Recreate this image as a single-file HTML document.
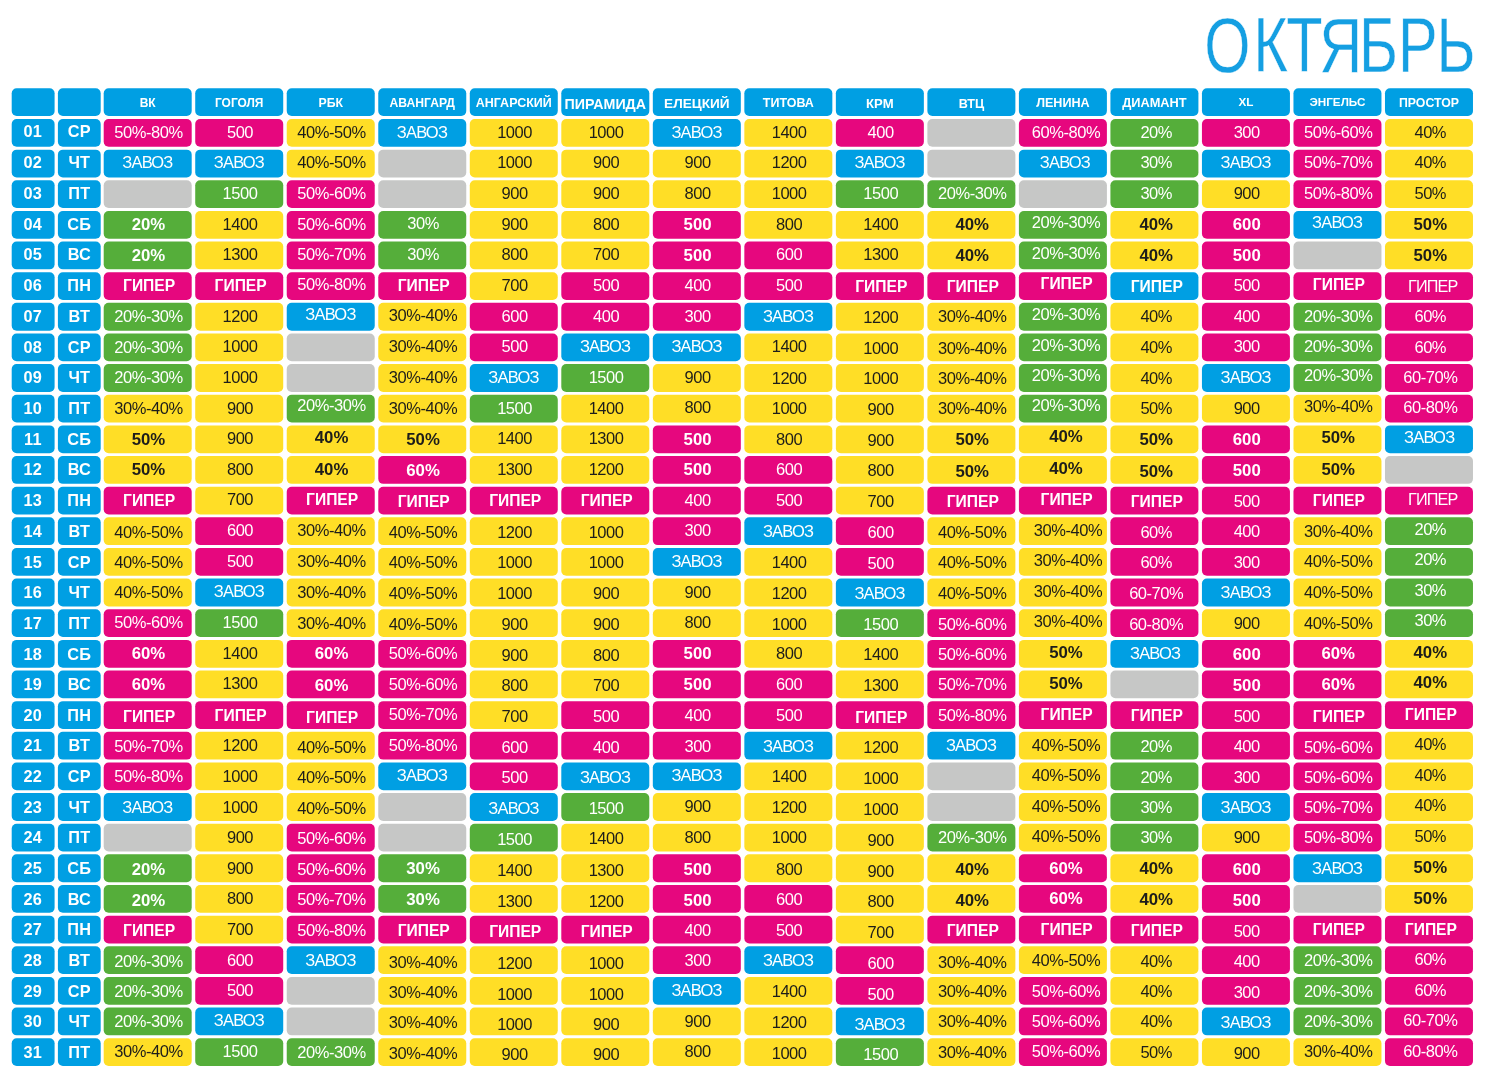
<!DOCTYPE html>
<html lang="ru"><head><meta charset="utf-8"><title>ОКТЯБРЬ</title>
<style>
html,body{margin:0;padding:0;background:#fff;}
body{width:1487px;height:1080px;overflow:hidden;}
svg{display:block;position:absolute;left:0;top:0}
text{font-family:"Liberation Sans",sans-serif;text-anchor:middle;fill:#fff;font-size:16.5px;letter-spacing:-0.45px}
.B{fill:#009fe3}.P{fill:#e6077e}.Y{fill:#ffde26}.G{fill:#55ae3a}.X{fill:#c6c7c6}
.k{fill:#1d1d1b}
.z{letter-spacing:-0.8px}
.b{font-weight:bold;font-size:16.8px;letter-spacing:0}
.g{font-weight:bold;font-size:15.6px;letter-spacing:0}
.h{font-weight:bold;letter-spacing:0}
.d{font-weight:bold;font-size:16.3px;letter-spacing:0.2px}
#t{font-size:78px;fill:#159fe2;stroke:#fff;stroke-width:0.45px;paint-order:fill stroke;text-anchor:start;letter-spacing:0}
</style></head><body>
<svg width="1487" height="1080" viewBox="0 0 1487 1080">
<text id="t" transform="scale(0.762,1)" x="1580.37 1644.53 1687.89 1731.33 1783.46 1834.62 1885.03" y="72.1">ОКТЯБРЬ</text>

<rect class="B" x="11.70" y="88.20" width="42.90" height="27.80" rx="5"/>
<rect class="B" x="57.90" y="88.20" width="42.80" height="27.80" rx="5"/>
<rect class="B" x="103.70" y="88.20" width="88.00" height="27.80" rx="5"/>
<text class="h" x="147.70" y="107.30" style="font-size:12.0px">ВК</text>
<rect class="B" x="195.22" y="88.20" width="88.00" height="27.80" rx="5"/>
<text class="h" x="239.22" y="107.28" style="font-size:11.95px">ГОГОЛЯ</text>
<rect class="B" x="286.74" y="88.20" width="88.00" height="27.80" rx="5"/>
<text class="h" x="330.74" y="107.39" style="font-size:12.27px">РБК</text>
<rect class="B" x="378.26" y="88.20" width="88.00" height="27.80" rx="5"/>
<text class="h" x="422.26" y="107.36" style="font-size:12.17px">АВАНГАРД</text>
<rect class="B" x="469.78" y="88.20" width="88.00" height="27.80" rx="5"/>
<text class="h" x="513.78" y="107.47" style="font-size:12.49px">АНГАРСКИЙ</text>
<rect class="B" x="561.30" y="88.20" width="88.00" height="27.80" rx="5"/>
<text class="h" x="605.30" y="108.80" style="font-size:14.24px">ПИРАМИДА</text>
<rect class="B" x="652.82" y="88.20" width="88.00" height="27.80" rx="5"/>
<text class="h" x="696.82" y="107.87" style="font-size:13.6px">ЕЛЕЦКИЙ</text>
<rect class="B" x="744.34" y="88.20" width="88.00" height="27.80" rx="5"/>
<text class="h" x="788.34" y="107.46" style="font-size:12.47px">ТИТОВА</text>
<rect class="B" x="835.86" y="88.20" width="88.00" height="27.80" rx="5"/>
<text class="h" x="879.86" y="107.69" style="font-size:13.11px">КРМ</text>
<rect class="B" x="927.38" y="88.20" width="88.00" height="27.80" rx="5"/>
<text class="h" x="971.38" y="107.51" style="font-size:12.59px">ВТЦ</text>
<rect class="B" x="1018.90" y="88.20" width="88.00" height="27.80" rx="5"/>
<text class="h" x="1062.90" y="106.70" style="font-size:12.58px">ЛЕНИНА</text>
<rect class="B" x="1110.42" y="88.20" width="88.00" height="27.80" rx="5"/>
<text class="h" x="1154.42" y="106.78" style="font-size:12.79px">ДИАМАНТ</text>
<rect class="B" x="1201.94" y="88.20" width="88.00" height="27.80" rx="5"/>
<text class="h" x="1245.94" y="106.40" style="font-size:11.73px">XL</text>
<rect class="B" x="1293.46" y="88.20" width="88.00" height="27.80" rx="5"/>
<text class="h" x="1337.46" y="106.39" style="font-size:11.7px">ЭНГЕЛЬС</text>
<rect class="B" x="1384.98" y="88.20" width="88.00" height="27.80" rx="5"/>
<text class="h" x="1428.98" y="106.60" style="font-size:12.3px">ПРОСТОР</text>
<rect class="B" x="11.70" y="119.00" width="42.90" height="27.80" rx="5"/>
<text class="d" x="32.85" y="137.44">01</text>
<rect class="B" x="57.90" y="119.00" width="42.80" height="27.80" rx="5"/>
<text class="d" x="79.30" y="137.44">СР</text>
<rect class="P" x="103.70" y="119.00" width="88.00" height="27.80" rx="5"/>
<text x="148.50" y="137.81">50%-80%</text>
<rect class="P" x="195.22" y="119.00" width="88.00" height="27.80" rx="5"/>
<text x="240.02" y="137.81">500</text>
<rect class="Y" x="286.74" y="119.00" width="88.00" height="27.80" rx="5"/>
<text class="k" x="331.54" y="137.81">40%-50%</text>
<rect class="B" x="378.26" y="119.00" width="88.00" height="27.80" rx="5"/>
<text class="z" x="421.96" y="137.81">ЗАВОЗ</text>
<rect class="Y" x="469.78" y="119.00" width="88.00" height="27.80" rx="5"/>
<text class="k" x="514.58" y="137.81">1000</text>
<rect class="Y" x="561.30" y="119.00" width="88.00" height="27.80" rx="5"/>
<text class="k" x="606.10" y="137.81">1000</text>
<rect class="B" x="652.82" y="119.00" width="88.00" height="27.80" rx="5"/>
<text class="z" x="696.52" y="137.81">ЗАВОЗ</text>
<rect class="Y" x="744.34" y="119.00" width="88.00" height="27.80" rx="5"/>
<text class="k" x="789.14" y="137.81">1400</text>
<rect class="P" x="835.86" y="119.00" width="88.00" height="27.80" rx="5"/>
<text x="880.66" y="137.81">400</text>
<rect class="X" x="927.38" y="119.00" width="88.00" height="27.80" rx="5"/>
<rect class="P" x="1018.90" y="119.00" width="88.00" height="27.80" rx="5"/>
<text x="1066.00" y="137.81">60%-80%</text>
<rect class="G" x="1110.42" y="119.00" width="88.00" height="27.80" rx="5"/>
<text x="1156.22" y="137.81">20%</text>
<rect class="P" x="1201.94" y="119.00" width="88.00" height="27.80" rx="5"/>
<text x="1246.74" y="137.81">300</text>
<rect class="P" x="1293.46" y="119.00" width="88.00" height="27.80" rx="5"/>
<text x="1338.26" y="137.81">50%-60%</text>
<rect class="Y" x="1384.98" y="119.00" width="88.00" height="27.80" rx="5"/>
<text class="k" x="1430.28" y="137.81">40%</text>
<rect class="B" x="11.70" y="149.64" width="42.90" height="27.80" rx="5"/>
<text class="d" x="32.85" y="168.16">02</text>
<rect class="B" x="57.90" y="149.64" width="42.80" height="27.80" rx="5"/>
<text class="d" x="79.30" y="168.16">ЧТ</text>
<rect class="B" x="103.70" y="149.64" width="88.00" height="27.80" rx="5"/>
<text class="z" x="147.40" y="168.45">ЗАВОЗ</text>
<rect class="B" x="195.22" y="149.64" width="88.00" height="27.80" rx="5"/>
<text class="z" x="238.92" y="168.45">ЗАВОЗ</text>
<rect class="Y" x="286.74" y="149.64" width="88.00" height="27.80" rx="5"/>
<text class="k" x="331.54" y="168.45">40%-50%</text>
<rect class="X" x="378.26" y="149.64" width="88.00" height="27.80" rx="5"/>
<rect class="Y" x="469.78" y="149.64" width="88.00" height="27.80" rx="5"/>
<text class="k" x="514.58" y="168.45">1000</text>
<rect class="Y" x="561.30" y="149.64" width="88.00" height="27.80" rx="5"/>
<text class="k" x="606.10" y="168.45">900</text>
<rect class="Y" x="652.82" y="149.64" width="88.00" height="27.80" rx="5"/>
<text class="k" x="697.62" y="168.45">900</text>
<rect class="Y" x="744.34" y="149.64" width="88.00" height="27.80" rx="5"/>
<text class="k" x="789.14" y="168.45">1200</text>
<rect class="B" x="835.86" y="149.64" width="88.00" height="27.80" rx="5"/>
<text class="z" x="879.56" y="168.45">ЗАВОЗ</text>
<rect class="X" x="927.38" y="149.64" width="88.00" height="27.80" rx="5"/>
<rect class="B" x="1018.90" y="149.64" width="88.00" height="27.80" rx="5"/>
<text class="z" x="1064.90" y="168.45">ЗАВОЗ</text>
<rect class="G" x="1110.42" y="149.64" width="88.00" height="27.80" rx="5"/>
<text x="1156.22" y="168.45">30%</text>
<rect class="B" x="1201.94" y="149.64" width="88.00" height="27.80" rx="5"/>
<text class="z" x="1245.64" y="168.45">ЗАВОЗ</text>
<rect class="P" x="1293.46" y="149.64" width="88.00" height="27.80" rx="5"/>
<text x="1338.26" y="168.45">50%-70%</text>
<rect class="Y" x="1384.98" y="149.64" width="88.00" height="27.80" rx="5"/>
<text class="k" x="1430.28" y="168.45">40%</text>
<rect class="B" x="11.70" y="180.28" width="42.90" height="27.80" rx="5"/>
<text class="d" x="32.85" y="198.89">03</text>
<rect class="B" x="57.90" y="180.28" width="42.80" height="27.80" rx="5"/>
<text class="d" x="79.30" y="198.89">ПТ</text>
<rect class="X" x="103.70" y="180.28" width="88.00" height="27.80" rx="5"/>
<rect class="G" x="195.22" y="180.28" width="88.00" height="27.80" rx="5"/>
<text x="240.02" y="199.09">1500</text>
<rect class="P" x="286.74" y="180.28" width="88.00" height="27.80" rx="5"/>
<text x="331.54" y="199.09">50%-60%</text>
<rect class="X" x="378.26" y="180.28" width="88.00" height="27.80" rx="5"/>
<rect class="Y" x="469.78" y="180.28" width="88.00" height="27.80" rx="5"/>
<text class="k" x="514.58" y="199.09">900</text>
<rect class="Y" x="561.30" y="180.28" width="88.00" height="27.80" rx="5"/>
<text class="k" x="606.10" y="199.09">900</text>
<rect class="Y" x="652.82" y="180.28" width="88.00" height="27.80" rx="5"/>
<text class="k" x="697.62" y="199.09">800</text>
<rect class="Y" x="744.34" y="180.28" width="88.00" height="27.80" rx="5"/>
<text class="k" x="789.14" y="199.09">1000</text>
<rect class="G" x="835.86" y="180.28" width="88.00" height="27.80" rx="5"/>
<text x="880.66" y="199.09">1500</text>
<rect class="G" x="927.38" y="180.28" width="88.00" height="27.80" rx="5"/>
<text x="972.18" y="199.09">20%-30%</text>
<rect class="X" x="1018.90" y="180.28" width="88.00" height="27.80" rx="5"/>
<rect class="G" x="1110.42" y="180.28" width="88.00" height="27.80" rx="5"/>
<text x="1156.22" y="199.09">30%</text>
<rect class="Y" x="1201.94" y="180.28" width="88.00" height="27.80" rx="5"/>
<text class="k" x="1246.74" y="199.09">900</text>
<rect class="P" x="1293.46" y="180.28" width="88.00" height="27.80" rx="5"/>
<text x="1338.26" y="199.09">50%-80%</text>
<rect class="Y" x="1384.98" y="180.28" width="88.00" height="27.80" rx="5"/>
<text class="k" x="1430.28" y="199.09">50%</text>
<rect class="B" x="11.70" y="210.92" width="42.90" height="27.80" rx="5"/>
<text class="d" x="32.85" y="229.61">04</text>
<rect class="B" x="57.90" y="210.92" width="42.80" height="27.80" rx="5"/>
<text class="d" x="79.30" y="229.61">СБ</text>
<rect class="G" x="103.70" y="210.92" width="88.00" height="27.80" rx="5"/>
<text class="b" x="148.50" y="230.23">20%</text>
<rect class="Y" x="195.22" y="210.92" width="88.00" height="27.80" rx="5"/>
<text class="k" x="240.02" y="229.73">1400</text>
<rect class="P" x="286.74" y="210.92" width="88.00" height="27.80" rx="5"/>
<text x="331.54" y="229.73">50%-60%</text>
<rect class="G" x="378.26" y="210.92" width="88.00" height="27.80" rx="5"/>
<text x="423.06" y="228.73">30%</text>
<rect class="Y" x="469.78" y="210.92" width="88.00" height="27.80" rx="5"/>
<text class="k" x="514.58" y="229.73">900</text>
<rect class="Y" x="561.30" y="210.92" width="88.00" height="27.80" rx="5"/>
<text class="k" x="606.10" y="229.73">800</text>
<rect class="P" x="652.82" y="210.92" width="88.00" height="27.80" rx="5"/>
<text class="b" x="697.62" y="230.23">500</text>
<rect class="Y" x="744.34" y="210.92" width="88.00" height="27.80" rx="5"/>
<text class="k" x="789.14" y="229.73">800</text>
<rect class="Y" x="835.86" y="210.92" width="88.00" height="27.80" rx="5"/>
<text class="k" x="880.66" y="229.73">1400</text>
<rect class="Y" x="927.38" y="210.92" width="88.00" height="27.80" rx="5"/>
<text class="b k" x="972.18" y="230.23">40%</text>
<rect class="G" x="1018.90" y="210.92" width="88.00" height="27.80" rx="5"/>
<text x="1066.00" y="227.73">20%-30%</text>
<rect class="Y" x="1110.42" y="210.92" width="88.00" height="27.80" rx="5"/>
<text class="b k" x="1156.22" y="230.23">40%</text>
<rect class="P" x="1201.94" y="210.92" width="88.00" height="27.80" rx="5"/>
<text class="b" x="1246.74" y="230.23">600</text>
<rect class="B" x="1293.46" y="210.92" width="88.00" height="27.80" rx="5"/>
<text class="z" x="1337.16" y="227.73">ЗАВОЗ</text>
<rect class="Y" x="1384.98" y="210.92" width="88.00" height="27.80" rx="5"/>
<text class="b k" x="1430.28" y="230.23">50%</text>
<rect class="B" x="11.70" y="241.56" width="42.90" height="27.80" rx="5"/>
<text class="d" x="32.85" y="260.34">05</text>
<rect class="B" x="57.90" y="241.56" width="42.80" height="27.80" rx="5"/>
<text class="d" x="79.30" y="260.34">ВС</text>
<rect class="G" x="103.70" y="241.56" width="88.00" height="27.80" rx="5"/>
<text class="b" x="148.50" y="260.87">20%</text>
<rect class="Y" x="195.22" y="241.56" width="88.00" height="27.80" rx="5"/>
<text class="k" x="240.02" y="260.37">1300</text>
<rect class="P" x="286.74" y="241.56" width="88.00" height="27.80" rx="5"/>
<text x="331.54" y="260.37">50%-70%</text>
<rect class="G" x="378.26" y="241.56" width="88.00" height="27.80" rx="5"/>
<text x="423.06" y="259.67">30%</text>
<rect class="Y" x="469.78" y="241.56" width="88.00" height="27.80" rx="5"/>
<text class="k" x="514.58" y="260.37">800</text>
<rect class="Y" x="561.30" y="241.56" width="88.00" height="27.80" rx="5"/>
<text class="k" x="606.10" y="260.37">700</text>
<rect class="P" x="652.82" y="241.56" width="88.00" height="27.80" rx="5"/>
<text class="b" x="697.62" y="260.87">500</text>
<rect class="P" x="744.34" y="241.56" width="88.00" height="27.80" rx="5"/>
<text x="789.14" y="260.37">600</text>
<rect class="Y" x="835.86" y="241.56" width="88.00" height="27.80" rx="5"/>
<text class="k" x="880.66" y="260.37">1300</text>
<rect class="Y" x="927.38" y="241.56" width="88.00" height="27.80" rx="5"/>
<text class="b k" x="972.18" y="260.87">40%</text>
<rect class="G" x="1018.90" y="241.56" width="88.00" height="27.80" rx="5"/>
<text x="1066.00" y="258.87">20%-30%</text>
<rect class="Y" x="1110.42" y="241.56" width="88.00" height="27.80" rx="5"/>
<text class="b k" x="1156.22" y="260.87">40%</text>
<rect class="P" x="1201.94" y="241.56" width="88.00" height="27.80" rx="5"/>
<text class="b" x="1246.74" y="260.87">500</text>
<rect class="X" x="1293.46" y="241.56" width="88.00" height="27.80" rx="5"/>
<rect class="Y" x="1384.98" y="241.56" width="88.00" height="27.80" rx="5"/>
<text class="b k" x="1430.28" y="260.87">50%</text>
<rect class="B" x="11.70" y="272.20" width="42.90" height="27.80" rx="5"/>
<text class="d" x="32.85" y="291.06">06</text>
<rect class="B" x="57.90" y="272.20" width="42.80" height="27.80" rx="5"/>
<text class="d" x="79.30" y="291.06">ПН</text>
<rect class="P" x="103.70" y="272.20" width="88.00" height="27.80" rx="5"/>
<text class="g" x="149.10" y="291.08">ГИПЕР</text>
<rect class="P" x="195.22" y="272.20" width="88.00" height="27.80" rx="5"/>
<text class="g" x="240.62" y="291.08">ГИПЕР</text>
<rect class="P" x="286.74" y="272.20" width="88.00" height="27.80" rx="5"/>
<text x="331.54" y="289.71">50%-80%</text>
<rect class="P" x="378.26" y="272.20" width="88.00" height="27.80" rx="5"/>
<text class="g" x="423.66" y="291.08">ГИПЕР</text>
<rect class="Y" x="469.78" y="272.20" width="88.00" height="27.80" rx="5"/>
<text class="k" x="514.58" y="291.01">700</text>
<rect class="P" x="561.30" y="272.20" width="88.00" height="27.80" rx="5"/>
<text x="606.10" y="291.01">500</text>
<rect class="P" x="652.82" y="272.20" width="88.00" height="27.80" rx="5"/>
<text x="697.62" y="291.01">400</text>
<rect class="P" x="744.34" y="272.20" width="88.00" height="27.80" rx="5"/>
<text x="789.14" y="291.01">500</text>
<rect class="P" x="835.86" y="272.20" width="88.00" height="27.80" rx="5"/>
<text class="g" x="881.26" y="291.78">ГИПЕР</text>
<rect class="P" x="927.38" y="272.20" width="88.00" height="27.80" rx="5"/>
<text class="g" x="972.78" y="291.78">ГИПЕР</text>
<rect class="P" x="1018.90" y="272.20" width="88.00" height="27.80" rx="5"/>
<text class="g" x="1066.60" y="289.38">ГИПЕР</text>
<rect class="B" x="1110.42" y="272.20" width="88.00" height="27.80" rx="5"/>
<text class="g" x="1156.82" y="292.08">ГИПЕР</text>
<rect class="P" x="1201.94" y="272.20" width="88.00" height="27.80" rx="5"/>
<text x="1246.74" y="291.01">500</text>
<rect class="P" x="1293.46" y="272.20" width="88.00" height="27.80" rx="5"/>
<text class="g" x="1338.86" y="289.78">ГИПЕР</text>
<rect class="P" x="1384.98" y="272.20" width="88.00" height="27.80" rx="5"/>
<text x="1432.78" y="291.90" style="font-size:16.2px;letter-spacing:-0.85px">ГИПЕР</text>
<rect class="B" x="11.70" y="302.84" width="42.90" height="27.80" rx="5"/>
<text class="d" x="32.85" y="321.79">07</text>
<rect class="B" x="57.90" y="302.84" width="42.80" height="27.80" rx="5"/>
<text class="d" x="79.30" y="321.79">ВТ</text>
<rect class="G" x="103.70" y="302.84" width="88.00" height="27.80" rx="5"/>
<text x="148.50" y="322.35">20%-30%</text>
<rect class="Y" x="195.22" y="302.84" width="88.00" height="27.80" rx="5"/>
<text class="k" x="240.02" y="321.65">1200</text>
<rect class="B" x="286.74" y="302.84" width="88.00" height="27.80" rx="5"/>
<text class="z" x="330.44" y="320.35">ЗАВОЗ</text>
<rect class="Y" x="378.26" y="302.84" width="88.00" height="27.80" rx="5"/>
<text class="k" x="423.06" y="320.95">30%-40%</text>
<rect class="P" x="469.78" y="302.84" width="88.00" height="27.80" rx="5"/>
<text x="514.58" y="321.65">600</text>
<rect class="P" x="561.30" y="302.84" width="88.00" height="27.80" rx="5"/>
<text x="606.10" y="321.65">400</text>
<rect class="P" x="652.82" y="302.84" width="88.00" height="27.80" rx="5"/>
<text x="697.62" y="321.65">300</text>
<rect class="B" x="744.34" y="302.84" width="88.00" height="27.80" rx="5"/>
<text class="z" x="788.04" y="321.65">ЗАВОЗ</text>
<rect class="Y" x="835.86" y="302.84" width="88.00" height="27.80" rx="5"/>
<text class="k" x="880.66" y="322.65">1200</text>
<rect class="Y" x="927.38" y="302.84" width="88.00" height="27.80" rx="5"/>
<text class="k" x="972.18" y="322.35">30%-40%</text>
<rect class="G" x="1018.90" y="302.84" width="88.00" height="27.80" rx="5"/>
<text x="1066.00" y="320.35">20%-30%</text>
<rect class="Y" x="1110.42" y="302.84" width="88.00" height="27.80" rx="5"/>
<text class="k" x="1156.22" y="321.65">40%</text>
<rect class="P" x="1201.94" y="302.84" width="88.00" height="27.80" rx="5"/>
<text x="1246.74" y="321.65">400</text>
<rect class="G" x="1293.46" y="302.84" width="88.00" height="27.80" rx="5"/>
<text x="1338.26" y="321.65">20%-30%</text>
<rect class="P" x="1384.98" y="302.84" width="88.00" height="27.80" rx="5"/>
<text x="1430.28" y="321.65">60%</text>
<rect class="B" x="11.70" y="333.48" width="42.90" height="27.80" rx="5"/>
<text class="d" x="32.85" y="352.52">08</text>
<rect class="B" x="57.90" y="333.48" width="42.80" height="27.80" rx="5"/>
<text class="d" x="79.30" y="352.52">СР</text>
<rect class="G" x="103.70" y="333.48" width="88.00" height="27.80" rx="5"/>
<text x="148.50" y="352.99">20%-30%</text>
<rect class="Y" x="195.22" y="333.48" width="88.00" height="27.80" rx="5"/>
<text class="k" x="240.02" y="352.29">1000</text>
<rect class="X" x="286.74" y="333.48" width="88.00" height="27.80" rx="5"/>
<rect class="Y" x="378.26" y="333.48" width="88.00" height="27.80" rx="5"/>
<text class="k" x="423.06" y="352.29">30%-40%</text>
<rect class="P" x="469.78" y="333.48" width="88.00" height="27.80" rx="5"/>
<text x="514.58" y="352.29">500</text>
<rect class="B" x="561.30" y="333.48" width="88.00" height="27.80" rx="5"/>
<text class="z" x="605.00" y="352.29">ЗАВОЗ</text>
<rect class="B" x="652.82" y="333.48" width="88.00" height="27.80" rx="5"/>
<text class="z" x="696.52" y="352.29">ЗАВОЗ</text>
<rect class="Y" x="744.34" y="333.48" width="88.00" height="27.80" rx="5"/>
<text class="k" x="789.14" y="352.29">1400</text>
<rect class="Y" x="835.86" y="333.48" width="88.00" height="27.80" rx="5"/>
<text class="k" x="880.66" y="353.59">1000</text>
<rect class="Y" x="927.38" y="333.48" width="88.00" height="27.80" rx="5"/>
<text class="k" x="972.18" y="353.79">30%-40%</text>
<rect class="G" x="1018.90" y="333.48" width="88.00" height="27.80" rx="5"/>
<text x="1066.00" y="351.29">20%-30%</text>
<rect class="Y" x="1110.42" y="333.48" width="88.00" height="27.80" rx="5"/>
<text class="k" x="1156.22" y="352.99">40%</text>
<rect class="P" x="1201.94" y="333.48" width="88.00" height="27.80" rx="5"/>
<text x="1246.74" y="352.29">300</text>
<rect class="G" x="1293.46" y="333.48" width="88.00" height="27.80" rx="5"/>
<text x="1338.26" y="352.29">20%-30%</text>
<rect class="P" x="1384.98" y="333.48" width="88.00" height="27.80" rx="5"/>
<text x="1430.28" y="352.79">60%</text>
<rect class="B" x="11.70" y="364.12" width="42.90" height="27.80" rx="5"/>
<text class="d" x="32.85" y="383.24">09</text>
<rect class="B" x="57.90" y="364.12" width="42.80" height="27.80" rx="5"/>
<text class="d" x="79.30" y="383.24">ЧТ</text>
<rect class="G" x="103.70" y="364.12" width="88.00" height="27.80" rx="5"/>
<text x="148.50" y="382.93">20%-30%</text>
<rect class="Y" x="195.22" y="364.12" width="88.00" height="27.80" rx="5"/>
<text class="k" x="240.02" y="382.93">1000</text>
<rect class="X" x="286.74" y="364.12" width="88.00" height="27.80" rx="5"/>
<rect class="Y" x="378.26" y="364.12" width="88.00" height="27.80" rx="5"/>
<text class="k" x="423.06" y="382.93">30%-40%</text>
<rect class="B" x="469.78" y="364.12" width="88.00" height="27.80" rx="5"/>
<text class="z" x="513.48" y="382.93">ЗАВОЗ</text>
<rect class="G" x="561.30" y="364.12" width="88.00" height="27.80" rx="5"/>
<text x="606.10" y="382.93">1500</text>
<rect class="Y" x="652.82" y="364.12" width="88.00" height="27.80" rx="5"/>
<text class="k" x="697.62" y="382.93">900</text>
<rect class="Y" x="744.34" y="364.12" width="88.00" height="27.80" rx="5"/>
<text class="k" x="789.14" y="383.93">1200</text>
<rect class="Y" x="835.86" y="364.12" width="88.00" height="27.80" rx="5"/>
<text class="k" x="880.66" y="384.43">1000</text>
<rect class="Y" x="927.38" y="364.12" width="88.00" height="27.80" rx="5"/>
<text class="k" x="972.18" y="383.93">30%-40%</text>
<rect class="G" x="1018.90" y="364.12" width="88.00" height="27.80" rx="5"/>
<text x="1066.00" y="380.63">20%-30%</text>
<rect class="Y" x="1110.42" y="364.12" width="88.00" height="27.80" rx="5"/>
<text class="k" x="1156.22" y="383.93">40%</text>
<rect class="B" x="1201.94" y="364.12" width="88.00" height="27.80" rx="5"/>
<text class="z" x="1245.64" y="382.93">ЗАВОЗ</text>
<rect class="G" x="1293.46" y="364.12" width="88.00" height="27.80" rx="5"/>
<text x="1338.26" y="381.43">20%-30%</text>
<rect class="P" x="1384.98" y="364.12" width="88.00" height="27.80" rx="5"/>
<text x="1430.28" y="382.93">60-70%</text>
<rect class="B" x="11.70" y="394.76" width="42.90" height="27.80" rx="5"/>
<text class="d" x="32.85" y="413.97">10</text>
<rect class="B" x="57.90" y="394.76" width="42.80" height="27.80" rx="5"/>
<text class="d" x="79.30" y="413.97">ПТ</text>
<rect class="Y" x="103.70" y="394.76" width="88.00" height="27.80" rx="5"/>
<text class="k" x="148.50" y="413.57">30%-40%</text>
<rect class="Y" x="195.22" y="394.76" width="88.00" height="27.80" rx="5"/>
<text class="k" x="240.02" y="413.57">900</text>
<rect class="G" x="286.74" y="394.76" width="88.00" height="27.80" rx="5"/>
<text x="331.54" y="411.27">20%-30%</text>
<rect class="Y" x="378.26" y="394.76" width="88.00" height="27.80" rx="5"/>
<text class="k" x="423.06" y="413.57">30%-40%</text>
<rect class="G" x="469.78" y="394.76" width="88.00" height="27.80" rx="5"/>
<text x="514.58" y="413.57">1500</text>
<rect class="Y" x="561.30" y="394.76" width="88.00" height="27.80" rx="5"/>
<text class="k" x="606.10" y="413.57">1400</text>
<rect class="Y" x="652.82" y="394.76" width="88.00" height="27.80" rx="5"/>
<text class="k" x="697.62" y="412.57">800</text>
<rect class="Y" x="744.34" y="394.76" width="88.00" height="27.80" rx="5"/>
<text class="k" x="789.14" y="413.97">1000</text>
<rect class="Y" x="835.86" y="394.76" width="88.00" height="27.80" rx="5"/>
<text class="k" x="880.66" y="414.57">900</text>
<rect class="Y" x="927.38" y="394.76" width="88.00" height="27.80" rx="5"/>
<text class="k" x="972.18" y="414.27">30%-40%</text>
<rect class="G" x="1018.90" y="394.76" width="88.00" height="27.80" rx="5"/>
<text x="1066.00" y="411.27">20%-30%</text>
<rect class="Y" x="1110.42" y="394.76" width="88.00" height="27.80" rx="5"/>
<text class="k" x="1156.22" y="413.57">50%</text>
<rect class="Y" x="1201.94" y="394.76" width="88.00" height="27.80" rx="5"/>
<text class="k" x="1246.74" y="413.57">900</text>
<rect class="Y" x="1293.46" y="394.76" width="88.00" height="27.80" rx="5"/>
<text class="k" x="1338.26" y="412.07">30%-40%</text>
<rect class="P" x="1384.98" y="394.76" width="88.00" height="27.80" rx="5"/>
<text x="1430.28" y="413.07">60-80%</text>
<rect class="B" x="11.70" y="425.40" width="42.90" height="27.80" rx="5"/>
<text class="d" x="32.85" y="444.69">11</text>
<rect class="B" x="57.90" y="425.40" width="42.80" height="27.80" rx="5"/>
<text class="d" x="79.30" y="444.69">СБ</text>
<rect class="Y" x="103.70" y="425.40" width="88.00" height="27.80" rx="5"/>
<text class="b k" x="148.50" y="444.71">50%</text>
<rect class="Y" x="195.22" y="425.40" width="88.00" height="27.80" rx="5"/>
<text class="k" x="240.02" y="444.21">900</text>
<rect class="Y" x="286.74" y="425.40" width="88.00" height="27.80" rx="5"/>
<text class="b k" x="331.54" y="443.01">40%</text>
<rect class="Y" x="378.26" y="425.40" width="88.00" height="27.80" rx="5"/>
<text class="b k" x="423.06" y="444.71">50%</text>
<rect class="Y" x="469.78" y="425.40" width="88.00" height="27.80" rx="5"/>
<text class="k" x="514.58" y="444.21">1400</text>
<rect class="Y" x="561.30" y="425.40" width="88.00" height="27.80" rx="5"/>
<text class="k" x="606.10" y="444.21">1300</text>
<rect class="P" x="652.82" y="425.40" width="88.00" height="27.80" rx="5"/>
<text class="b" x="697.62" y="444.71">500</text>
<rect class="Y" x="744.34" y="425.40" width="88.00" height="27.80" rx="5"/>
<text class="k" x="789.14" y="444.61">800</text>
<rect class="Y" x="835.86" y="425.40" width="88.00" height="27.80" rx="5"/>
<text class="k" x="880.66" y="445.71">900</text>
<rect class="Y" x="927.38" y="425.40" width="88.00" height="27.80" rx="5"/>
<text class="b k" x="972.18" y="444.71">50%</text>
<rect class="Y" x="1018.90" y="425.40" width="88.00" height="27.80" rx="5"/>
<text class="b k" x="1066.00" y="442.41">40%</text>
<rect class="Y" x="1110.42" y="425.40" width="88.00" height="27.80" rx="5"/>
<text class="b k" x="1156.22" y="444.71">50%</text>
<rect class="P" x="1201.94" y="425.40" width="88.00" height="27.80" rx="5"/>
<text class="b" x="1246.74" y="444.71">600</text>
<rect class="Y" x="1293.46" y="425.40" width="88.00" height="27.80" rx="5"/>
<text class="b k" x="1338.26" y="443.21">50%</text>
<rect class="B" x="1384.98" y="425.40" width="88.00" height="27.80" rx="5"/>
<text class="z" x="1429.18" y="443.21">ЗАВОЗ</text>
<rect class="B" x="11.70" y="456.04" width="42.90" height="27.80" rx="5"/>
<text class="d" x="32.85" y="475.42">12</text>
<rect class="B" x="57.90" y="456.04" width="42.80" height="27.80" rx="5"/>
<text class="d" x="79.30" y="475.42">ВС</text>
<rect class="Y" x="103.70" y="456.04" width="88.00" height="27.80" rx="5"/>
<text class="b k" x="148.50" y="475.35">50%</text>
<rect class="Y" x="195.22" y="456.04" width="88.00" height="27.80" rx="5"/>
<text class="k" x="240.02" y="474.85">800</text>
<rect class="Y" x="286.74" y="456.04" width="88.00" height="27.80" rx="5"/>
<text class="b k" x="331.54" y="474.65">40%</text>
<rect class="P" x="378.26" y="456.04" width="88.00" height="27.80" rx="5"/>
<text class="b" x="423.06" y="476.35">60%</text>
<rect class="Y" x="469.78" y="456.04" width="88.00" height="27.80" rx="5"/>
<text class="k" x="514.58" y="474.85">1300</text>
<rect class="Y" x="561.30" y="456.04" width="88.00" height="27.80" rx="5"/>
<text class="k" x="606.10" y="474.85">1200</text>
<rect class="P" x="652.82" y="456.04" width="88.00" height="27.80" rx="5"/>
<text class="b" x="697.62" y="475.35">500</text>
<rect class="P" x="744.34" y="456.04" width="88.00" height="27.80" rx="5"/>
<text x="789.14" y="475.25">600</text>
<rect class="Y" x="835.86" y="456.04" width="88.00" height="27.80" rx="5"/>
<text class="k" x="880.66" y="476.35">800</text>
<rect class="Y" x="927.38" y="456.04" width="88.00" height="27.80" rx="5"/>
<text class="b k" x="972.18" y="476.85">50%</text>
<rect class="Y" x="1018.90" y="456.04" width="88.00" height="27.80" rx="5"/>
<text class="b k" x="1066.00" y="474.05">40%</text>
<rect class="Y" x="1110.42" y="456.04" width="88.00" height="27.80" rx="5"/>
<text class="b k" x="1156.22" y="476.85">50%</text>
<rect class="P" x="1201.94" y="456.04" width="88.00" height="27.80" rx="5"/>
<text class="b" x="1246.74" y="476.35">500</text>
<rect class="Y" x="1293.46" y="456.04" width="88.00" height="27.80" rx="5"/>
<text class="b k" x="1338.26" y="474.65">50%</text>
<rect class="X" x="1384.98" y="456.04" width="88.00" height="27.80" rx="5"/>
<rect class="B" x="11.70" y="486.68" width="42.90" height="27.80" rx="5"/>
<text class="d" x="32.85" y="506.14">13</text>
<rect class="B" x="57.90" y="486.68" width="42.80" height="27.80" rx="5"/>
<text class="d" x="79.30" y="506.14">ПН</text>
<rect class="P" x="103.70" y="486.68" width="88.00" height="27.80" rx="5"/>
<text class="g" x="149.10" y="506.26">ГИПЕР</text>
<rect class="Y" x="195.22" y="486.68" width="88.00" height="27.80" rx="5"/>
<text class="k" x="240.02" y="505.49">700</text>
<rect class="P" x="286.74" y="486.68" width="88.00" height="27.80" rx="5"/>
<text class="g" x="332.14" y="504.86">ГИПЕР</text>
<rect class="P" x="378.26" y="486.68" width="88.00" height="27.80" rx="5"/>
<text class="g" x="423.66" y="506.56">ГИПЕР</text>
<rect class="P" x="469.78" y="486.68" width="88.00" height="27.80" rx="5"/>
<text class="g" x="515.18" y="505.56">ГИПЕР</text>
<rect class="P" x="561.30" y="486.68" width="88.00" height="27.80" rx="5"/>
<text class="g" x="606.70" y="505.56">ГИПЕР</text>
<rect class="P" x="652.82" y="486.68" width="88.00" height="27.80" rx="5"/>
<text x="697.62" y="506.49">400</text>
<rect class="P" x="744.34" y="486.68" width="88.00" height="27.80" rx="5"/>
<text x="789.14" y="505.89">500</text>
<rect class="Y" x="835.86" y="486.68" width="88.00" height="27.80" rx="5"/>
<text class="k" x="880.66" y="506.99">700</text>
<rect class="P" x="927.38" y="486.68" width="88.00" height="27.80" rx="5"/>
<text class="g" x="972.78" y="507.06">ГИПЕР</text>
<rect class="P" x="1018.90" y="486.68" width="88.00" height="27.80" rx="5"/>
<text class="g" x="1066.60" y="504.86">ГИПЕР</text>
<rect class="P" x="1110.42" y="486.68" width="88.00" height="27.80" rx="5"/>
<text class="g" x="1156.82" y="507.26">ГИПЕР</text>
<rect class="P" x="1201.94" y="486.68" width="88.00" height="27.80" rx="5"/>
<text x="1246.74" y="506.99">500</text>
<rect class="P" x="1293.46" y="486.68" width="88.00" height="27.80" rx="5"/>
<text class="g" x="1338.86" y="506.06">ГИПЕР</text>
<rect class="P" x="1384.98" y="486.68" width="88.00" height="27.80" rx="5"/>
<text x="1432.78" y="505.38" style="font-size:16.2px;letter-spacing:-0.85px">ГИПЕР</text>
<rect class="B" x="11.70" y="517.32" width="42.90" height="27.80" rx="5"/>
<text class="d" x="32.85" y="536.87">14</text>
<rect class="B" x="57.90" y="517.32" width="42.80" height="27.80" rx="5"/>
<text class="d" x="79.30" y="536.87">ВТ</text>
<rect class="Y" x="103.70" y="517.32" width="88.00" height="27.80" rx="5"/>
<text class="k" x="148.50" y="537.63">40%-50%</text>
<rect class="P" x="195.22" y="517.32" width="88.00" height="27.80" rx="5"/>
<text x="240.02" y="536.13">600</text>
<rect class="Y" x="286.74" y="517.32" width="88.00" height="27.80" rx="5"/>
<text class="k" x="331.54" y="536.13">30%-40%</text>
<rect class="Y" x="378.26" y="517.32" width="88.00" height="27.80" rx="5"/>
<text class="k" x="423.06" y="537.63">40%-50%</text>
<rect class="Y" x="469.78" y="517.32" width="88.00" height="27.80" rx="5"/>
<text class="k" x="514.58" y="537.63">1200</text>
<rect class="Y" x="561.30" y="517.32" width="88.00" height="27.80" rx="5"/>
<text class="k" x="606.10" y="537.63">1000</text>
<rect class="P" x="652.82" y="517.32" width="88.00" height="27.80" rx="5"/>
<text x="697.62" y="536.13">300</text>
<rect class="B" x="744.34" y="517.32" width="88.00" height="27.80" rx="5"/>
<text class="z" x="788.04" y="536.53">ЗАВОЗ</text>
<rect class="P" x="835.86" y="517.32" width="88.00" height="27.80" rx="5"/>
<text x="880.66" y="538.13">600</text>
<rect class="Y" x="927.38" y="517.32" width="88.00" height="27.80" rx="5"/>
<text class="k" x="972.18" y="538.13">40%-50%</text>
<rect class="Y" x="1018.90" y="517.32" width="88.00" height="27.80" rx="5"/>
<text class="k" x="1068.00" y="536.13">30%-40%</text>
<rect class="P" x="1110.42" y="517.32" width="88.00" height="27.80" rx="5"/>
<text x="1156.22" y="538.13">60%</text>
<rect class="P" x="1201.94" y="517.32" width="88.00" height="27.80" rx="5"/>
<text x="1246.74" y="537.13">400</text>
<rect class="Y" x="1293.46" y="517.32" width="88.00" height="27.80" rx="5"/>
<text class="k" x="1338.26" y="536.63">30%-40%</text>
<rect class="G" x="1384.98" y="517.32" width="88.00" height="27.80" rx="5"/>
<text x="1430.28" y="535.13">20%</text>
<rect class="B" x="11.70" y="547.96" width="42.90" height="27.80" rx="5"/>
<text class="d" x="32.85" y="567.60">15</text>
<rect class="B" x="57.90" y="547.96" width="42.80" height="27.80" rx="5"/>
<text class="d" x="79.30" y="567.60">СР</text>
<rect class="Y" x="103.70" y="547.96" width="88.00" height="27.80" rx="5"/>
<text class="k" x="148.50" y="567.77">40%-50%</text>
<rect class="P" x="195.22" y="547.96" width="88.00" height="27.80" rx="5"/>
<text x="240.02" y="566.77">500</text>
<rect class="Y" x="286.74" y="547.96" width="88.00" height="27.80" rx="5"/>
<text class="k" x="331.54" y="566.77">30%-40%</text>
<rect class="Y" x="378.26" y="547.96" width="88.00" height="27.80" rx="5"/>
<text class="k" x="423.06" y="567.77">40%-50%</text>
<rect class="Y" x="469.78" y="547.96" width="88.00" height="27.80" rx="5"/>
<text class="k" x="514.58" y="568.27">1000</text>
<rect class="Y" x="561.30" y="547.96" width="88.00" height="27.80" rx="5"/>
<text class="k" x="606.10" y="568.27">1000</text>
<rect class="B" x="652.82" y="547.96" width="88.00" height="27.80" rx="5"/>
<text class="z" x="696.52" y="566.77">ЗАВОЗ</text>
<rect class="Y" x="744.34" y="547.96" width="88.00" height="27.80" rx="5"/>
<text class="k" x="789.14" y="567.77">1400</text>
<rect class="P" x="835.86" y="547.96" width="88.00" height="27.80" rx="5"/>
<text x="880.66" y="568.77">500</text>
<rect class="Y" x="927.38" y="547.96" width="88.00" height="27.80" rx="5"/>
<text class="k" x="972.18" y="568.27">40%-50%</text>
<rect class="Y" x="1018.90" y="547.96" width="88.00" height="27.80" rx="5"/>
<text class="k" x="1068.00" y="566.07">30%-40%</text>
<rect class="P" x="1110.42" y="547.96" width="88.00" height="27.80" rx="5"/>
<text x="1156.22" y="568.47">60%</text>
<rect class="P" x="1201.94" y="547.96" width="88.00" height="27.80" rx="5"/>
<text x="1246.74" y="567.77">300</text>
<rect class="Y" x="1293.46" y="547.96" width="88.00" height="27.80" rx="5"/>
<text class="k" x="1338.26" y="566.77">40%-50%</text>
<rect class="G" x="1384.98" y="547.96" width="88.00" height="27.80" rx="5"/>
<text x="1430.28" y="565.07">20%</text>
<rect class="B" x="11.70" y="578.60" width="42.90" height="27.80" rx="5"/>
<text class="d" x="32.85" y="598.24">16</text>
<rect class="B" x="57.90" y="578.60" width="42.80" height="27.80" rx="5"/>
<text class="d" x="79.30" y="598.24">ЧТ</text>
<rect class="Y" x="103.70" y="578.60" width="88.00" height="27.80" rx="5"/>
<text class="k" x="148.50" y="598.41">40%-50%</text>
<rect class="B" x="195.22" y="578.60" width="88.00" height="27.80" rx="5"/>
<text class="z" x="238.92" y="597.41">ЗАВОЗ</text>
<rect class="Y" x="286.74" y="578.60" width="88.00" height="27.80" rx="5"/>
<text class="k" x="331.54" y="597.91">30%-40%</text>
<rect class="Y" x="378.26" y="578.60" width="88.00" height="27.80" rx="5"/>
<text class="k" x="423.06" y="599.11">40%-50%</text>
<rect class="Y" x="469.78" y="578.60" width="88.00" height="27.80" rx="5"/>
<text class="k" x="514.58" y="599.41">1000</text>
<rect class="Y" x="561.30" y="578.60" width="88.00" height="27.80" rx="5"/>
<text class="k" x="606.10" y="599.41">900</text>
<rect class="Y" x="652.82" y="578.60" width="88.00" height="27.80" rx="5"/>
<text class="k" x="697.62" y="598.11">900</text>
<rect class="Y" x="744.34" y="578.60" width="88.00" height="27.80" rx="5"/>
<text class="k" x="789.14" y="598.91">1200</text>
<rect class="B" x="835.86" y="578.60" width="88.00" height="27.80" rx="5"/>
<text class="z" x="879.56" y="599.11">ЗАВОЗ</text>
<rect class="Y" x="927.38" y="578.60" width="88.00" height="27.80" rx="5"/>
<text class="k" x="972.18" y="599.41">40%-50%</text>
<rect class="Y" x="1018.90" y="578.60" width="88.00" height="27.80" rx="5"/>
<text class="k" x="1068.00" y="596.71">30%-40%</text>
<rect class="P" x="1110.42" y="578.60" width="88.00" height="27.80" rx="5"/>
<text x="1156.22" y="599.11">60-70%</text>
<rect class="B" x="1201.94" y="578.60" width="88.00" height="27.80" rx="5"/>
<text class="z" x="1245.64" y="597.91">ЗАВОЗ</text>
<rect class="Y" x="1293.46" y="578.60" width="88.00" height="27.80" rx="5"/>
<text class="k" x="1338.26" y="598.11">40%-50%</text>
<rect class="G" x="1384.98" y="578.60" width="88.00" height="27.80" rx="5"/>
<text x="1430.28" y="596.41">30%</text>
<rect class="B" x="11.70" y="609.24" width="42.90" height="27.80" rx="5"/>
<text class="d" x="32.85" y="628.88">17</text>
<rect class="B" x="57.90" y="609.24" width="42.80" height="27.80" rx="5"/>
<text class="d" x="79.30" y="628.88">ПТ</text>
<rect class="P" x="103.70" y="609.24" width="88.00" height="27.80" rx="5"/>
<text x="148.50" y="628.05">50%-60%</text>
<rect class="G" x="195.22" y="609.24" width="88.00" height="27.80" rx="5"/>
<text x="240.02" y="628.05">1500</text>
<rect class="Y" x="286.74" y="609.24" width="88.00" height="27.80" rx="5"/>
<text class="k" x="331.54" y="628.75">30%-40%</text>
<rect class="Y" x="378.26" y="609.24" width="88.00" height="27.80" rx="5"/>
<text class="k" x="423.06" y="629.75">40%-50%</text>
<rect class="Y" x="469.78" y="609.24" width="88.00" height="27.80" rx="5"/>
<text class="k" x="514.58" y="630.05">900</text>
<rect class="Y" x="561.30" y="609.24" width="88.00" height="27.80" rx="5"/>
<text class="k" x="606.10" y="630.05">900</text>
<rect class="Y" x="652.82" y="609.24" width="88.00" height="27.80" rx="5"/>
<text class="k" x="697.62" y="628.05">800</text>
<rect class="Y" x="744.34" y="609.24" width="88.00" height="27.80" rx="5"/>
<text class="k" x="789.14" y="629.55">1000</text>
<rect class="G" x="835.86" y="609.24" width="88.00" height="27.80" rx="5"/>
<text x="880.66" y="630.05">1500</text>
<rect class="P" x="927.38" y="609.24" width="88.00" height="27.80" rx="5"/>
<text x="972.18" y="630.05">50%-60%</text>
<rect class="Y" x="1018.90" y="609.24" width="88.00" height="27.80" rx="5"/>
<text class="k" x="1068.00" y="627.05">30%-40%</text>
<rect class="P" x="1110.42" y="609.24" width="88.00" height="27.80" rx="5"/>
<text x="1156.22" y="629.75">60-80%</text>
<rect class="Y" x="1201.94" y="609.24" width="88.00" height="27.80" rx="5"/>
<text class="k" x="1246.74" y="629.35">900</text>
<rect class="Y" x="1293.46" y="609.24" width="88.00" height="27.80" rx="5"/>
<text class="k" x="1338.26" y="628.75">40%-50%</text>
<rect class="G" x="1384.98" y="609.24" width="88.00" height="27.80" rx="5"/>
<text x="1430.28" y="626.05">30%</text>
<rect class="B" x="11.70" y="639.88" width="42.90" height="27.80" rx="5"/>
<text class="d" x="32.85" y="659.52">18</text>
<rect class="B" x="57.90" y="639.88" width="42.80" height="27.80" rx="5"/>
<text class="d" x="79.30" y="659.52">СБ</text>
<rect class="P" x="103.70" y="639.88" width="88.00" height="27.80" rx="5"/>
<text class="b" x="148.50" y="659.19">60%</text>
<rect class="Y" x="195.22" y="639.88" width="88.00" height="27.80" rx="5"/>
<text class="k" x="240.02" y="658.69">1400</text>
<rect class="P" x="286.74" y="639.88" width="88.00" height="27.80" rx="5"/>
<text class="b" x="331.54" y="659.19">60%</text>
<rect class="P" x="378.26" y="639.88" width="88.00" height="27.80" rx="5"/>
<text x="423.06" y="658.69">50%-60%</text>
<rect class="Y" x="469.78" y="639.88" width="88.00" height="27.80" rx="5"/>
<text class="k" x="514.58" y="660.69">900</text>
<rect class="Y" x="561.30" y="639.88" width="88.00" height="27.80" rx="5"/>
<text class="k" x="606.10" y="660.69">800</text>
<rect class="P" x="652.82" y="639.88" width="88.00" height="27.80" rx="5"/>
<text class="b" x="697.62" y="659.19">500</text>
<rect class="Y" x="744.34" y="639.88" width="88.00" height="27.80" rx="5"/>
<text class="k" x="789.14" y="659.19">800</text>
<rect class="Y" x="835.86" y="639.88" width="88.00" height="27.80" rx="5"/>
<text class="k" x="880.66" y="660.39">1400</text>
<rect class="P" x="927.38" y="639.88" width="88.00" height="27.80" rx="5"/>
<text x="972.18" y="659.69">50%-60%</text>
<rect class="Y" x="1018.90" y="639.88" width="88.00" height="27.80" rx="5"/>
<text class="b k" x="1066.00" y="658.49">50%</text>
<rect class="B" x="1110.42" y="639.88" width="88.00" height="27.80" rx="5"/>
<text class="z" x="1155.12" y="658.69">ЗАВОЗ</text>
<rect class="P" x="1201.94" y="639.88" width="88.00" height="27.80" rx="5"/>
<text class="b" x="1246.74" y="660.19">600</text>
<rect class="P" x="1293.46" y="639.88" width="88.00" height="27.80" rx="5"/>
<text class="b" x="1338.26" y="659.19">60%</text>
<rect class="Y" x="1384.98" y="639.88" width="88.00" height="27.80" rx="5"/>
<text class="b k" x="1430.28" y="657.89">40%</text>
<rect class="B" x="11.70" y="670.52" width="42.90" height="27.80" rx="5"/>
<text class="d" x="32.85" y="690.16">19</text>
<rect class="B" x="57.90" y="670.52" width="42.80" height="27.80" rx="5"/>
<text class="d" x="79.30" y="690.16">ВС</text>
<rect class="P" x="103.70" y="670.52" width="88.00" height="27.80" rx="5"/>
<text class="b" x="148.50" y="690.33">60%</text>
<rect class="Y" x="195.22" y="670.52" width="88.00" height="27.80" rx="5"/>
<text class="k" x="240.02" y="689.33">1300</text>
<rect class="P" x="286.74" y="670.52" width="88.00" height="27.80" rx="5"/>
<text class="b" x="331.54" y="690.83">60%</text>
<rect class="P" x="378.26" y="670.52" width="88.00" height="27.80" rx="5"/>
<text x="423.06" y="690.33">50%-60%</text>
<rect class="Y" x="469.78" y="670.52" width="88.00" height="27.80" rx="5"/>
<text class="k" x="514.58" y="691.33">800</text>
<rect class="Y" x="561.30" y="670.52" width="88.00" height="27.80" rx="5"/>
<text class="k" x="606.10" y="691.33">700</text>
<rect class="P" x="652.82" y="670.52" width="88.00" height="27.80" rx="5"/>
<text class="b" x="697.62" y="689.83">500</text>
<rect class="P" x="744.34" y="670.52" width="88.00" height="27.80" rx="5"/>
<text x="789.14" y="690.33">600</text>
<rect class="Y" x="835.86" y="670.52" width="88.00" height="27.80" rx="5"/>
<text class="k" x="880.66" y="691.33">1300</text>
<rect class="P" x="927.38" y="670.52" width="88.00" height="27.80" rx="5"/>
<text x="972.18" y="690.33">50%-70%</text>
<rect class="Y" x="1018.90" y="670.52" width="88.00" height="27.80" rx="5"/>
<text class="b k" x="1066.00" y="688.83">50%</text>
<rect class="X" x="1110.42" y="670.52" width="88.00" height="27.80" rx="5"/>
<rect class="P" x="1201.94" y="670.52" width="88.00" height="27.80" rx="5"/>
<text class="b" x="1246.74" y="690.83">500</text>
<rect class="P" x="1293.46" y="670.52" width="88.00" height="27.80" rx="5"/>
<text class="b" x="1338.26" y="690.33">60%</text>
<rect class="Y" x="1384.98" y="670.52" width="88.00" height="27.80" rx="5"/>
<text class="b k" x="1430.28" y="688.13">40%</text>
<rect class="B" x="11.70" y="701.16" width="42.90" height="27.80" rx="5"/>
<text class="d" x="32.85" y="720.80">20</text>
<rect class="B" x="57.90" y="701.16" width="42.80" height="27.80" rx="5"/>
<text class="d" x="79.30" y="720.80">ПН</text>
<rect class="P" x="103.70" y="701.16" width="88.00" height="27.80" rx="5"/>
<text class="g" x="149.10" y="722.04">ГИПЕР</text>
<rect class="P" x="195.22" y="701.16" width="88.00" height="27.80" rx="5"/>
<text class="g" x="240.62" y="720.74">ГИПЕР</text>
<rect class="P" x="286.74" y="701.16" width="88.00" height="27.80" rx="5"/>
<text class="g" x="332.14" y="723.04">ГИПЕР</text>
<rect class="P" x="378.26" y="701.16" width="88.00" height="27.80" rx="5"/>
<text x="423.06" y="719.97">50%-70%</text>
<rect class="Y" x="469.78" y="701.16" width="88.00" height="27.80" rx="5"/>
<text class="k" x="514.58" y="721.97">700</text>
<rect class="P" x="561.30" y="701.16" width="88.00" height="27.80" rx="5"/>
<text x="606.10" y="721.97">500</text>
<rect class="P" x="652.82" y="701.16" width="88.00" height="27.80" rx="5"/>
<text x="697.62" y="720.97">400</text>
<rect class="P" x="744.34" y="701.16" width="88.00" height="27.80" rx="5"/>
<text x="789.14" y="720.97">500</text>
<rect class="P" x="835.86" y="701.16" width="88.00" height="27.80" rx="5"/>
<text class="g" x="881.26" y="723.04">ГИПЕР</text>
<rect class="P" x="927.38" y="701.16" width="88.00" height="27.80" rx="5"/>
<text x="972.18" y="720.67">50%-80%</text>
<rect class="P" x="1018.90" y="701.16" width="88.00" height="27.80" rx="5"/>
<text class="g" x="1066.60" y="720.04">ГИПЕР</text>
<rect class="P" x="1110.42" y="701.16" width="88.00" height="27.80" rx="5"/>
<text class="g" x="1156.82" y="721.34">ГИПЕР</text>
<rect class="P" x="1201.94" y="701.16" width="88.00" height="27.80" rx="5"/>
<text x="1246.74" y="722.27">500</text>
<rect class="P" x="1293.46" y="701.16" width="88.00" height="27.80" rx="5"/>
<text class="g" x="1338.86" y="722.34">ГИПЕР</text>
<rect class="P" x="1384.98" y="701.16" width="88.00" height="27.80" rx="5"/>
<text class="g" x="1430.88" y="719.74">ГИПЕР</text>
<rect class="B" x="11.70" y="731.80" width="42.90" height="27.80" rx="5"/>
<text class="d" x="32.85" y="751.44">21</text>
<rect class="B" x="57.90" y="731.80" width="42.80" height="27.80" rx="5"/>
<text class="d" x="79.30" y="751.44">ВТ</text>
<rect class="P" x="103.70" y="731.80" width="88.00" height="27.80" rx="5"/>
<text x="148.50" y="751.61">50%-70%</text>
<rect class="Y" x="195.22" y="731.80" width="88.00" height="27.80" rx="5"/>
<text class="k" x="240.02" y="750.61">1200</text>
<rect class="Y" x="286.74" y="731.80" width="88.00" height="27.80" rx="5"/>
<text class="k" x="331.54" y="752.61">40%-50%</text>
<rect class="P" x="378.26" y="731.80" width="88.00" height="27.80" rx="5"/>
<text x="423.06" y="750.61">50%-80%</text>
<rect class="P" x="469.78" y="731.80" width="88.00" height="27.80" rx="5"/>
<text x="514.58" y="752.61">600</text>
<rect class="P" x="561.30" y="731.80" width="88.00" height="27.80" rx="5"/>
<text x="606.10" y="752.61">400</text>
<rect class="P" x="652.82" y="731.80" width="88.00" height="27.80" rx="5"/>
<text x="697.62" y="751.61">300</text>
<rect class="B" x="744.34" y="731.80" width="88.00" height="27.80" rx="5"/>
<text class="z" x="788.04" y="751.61">ЗАВОЗ</text>
<rect class="Y" x="835.86" y="731.80" width="88.00" height="27.80" rx="5"/>
<text class="k" x="880.66" y="753.11">1200</text>
<rect class="B" x="927.38" y="731.80" width="88.00" height="27.80" rx="5"/>
<text class="z" x="971.08" y="750.61">ЗАВОЗ</text>
<rect class="Y" x="1018.90" y="731.80" width="88.00" height="27.80" rx="5"/>
<text class="k" x="1066.00" y="750.61">40%-50%</text>
<rect class="G" x="1110.42" y="731.80" width="88.00" height="27.80" rx="5"/>
<text x="1156.22" y="752.31">20%</text>
<rect class="P" x="1201.94" y="731.80" width="88.00" height="27.80" rx="5"/>
<text x="1246.74" y="752.31">400</text>
<rect class="P" x="1293.46" y="731.80" width="88.00" height="27.80" rx="5"/>
<text x="1338.26" y="752.61">50%-60%</text>
<rect class="Y" x="1384.98" y="731.80" width="88.00" height="27.80" rx="5"/>
<text class="k" x="1430.28" y="749.91">40%</text>
<rect class="B" x="11.70" y="762.44" width="42.90" height="27.80" rx="5"/>
<text class="d" x="32.85" y="782.08">22</text>
<rect class="B" x="57.90" y="762.44" width="42.80" height="27.80" rx="5"/>
<text class="d" x="79.30" y="782.08">СР</text>
<rect class="P" x="103.70" y="762.44" width="88.00" height="27.80" rx="5"/>
<text x="148.50" y="782.25">50%-80%</text>
<rect class="Y" x="195.22" y="762.44" width="88.00" height="27.80" rx="5"/>
<text class="k" x="240.02" y="782.25">1000</text>
<rect class="Y" x="286.74" y="762.44" width="88.00" height="27.80" rx="5"/>
<text class="k" x="331.54" y="783.25">40%-50%</text>
<rect class="B" x="378.26" y="762.44" width="88.00" height="27.80" rx="5"/>
<text class="z" x="421.96" y="781.25">ЗАВОЗ</text>
<rect class="P" x="469.78" y="762.44" width="88.00" height="27.80" rx="5"/>
<text x="514.58" y="783.25">500</text>
<rect class="B" x="561.30" y="762.44" width="88.00" height="27.80" rx="5"/>
<text class="z" x="605.00" y="783.25">ЗАВОЗ</text>
<rect class="B" x="652.82" y="762.44" width="88.00" height="27.80" rx="5"/>
<text class="z" x="696.52" y="781.25">ЗАВОЗ</text>
<rect class="Y" x="744.34" y="762.44" width="88.00" height="27.80" rx="5"/>
<text class="k" x="789.14" y="782.25">1400</text>
<rect class="Y" x="835.86" y="762.44" width="88.00" height="27.80" rx="5"/>
<text class="k" x="880.66" y="784.25">1000</text>
<rect class="X" x="927.38" y="762.44" width="88.00" height="27.80" rx="5"/>
<rect class="Y" x="1018.90" y="762.44" width="88.00" height="27.80" rx="5"/>
<text class="k" x="1066.00" y="781.25">40%-50%</text>
<rect class="G" x="1110.42" y="762.44" width="88.00" height="27.80" rx="5"/>
<text x="1156.22" y="782.95">20%</text>
<rect class="P" x="1201.94" y="762.44" width="88.00" height="27.80" rx="5"/>
<text x="1246.74" y="782.95">300</text>
<rect class="P" x="1293.46" y="762.44" width="88.00" height="27.80" rx="5"/>
<text x="1338.26" y="783.25">50%-60%</text>
<rect class="Y" x="1384.98" y="762.44" width="88.00" height="27.80" rx="5"/>
<text class="k" x="1430.28" y="780.55">40%</text>
<rect class="B" x="11.70" y="793.08" width="42.90" height="27.80" rx="5"/>
<text class="d" x="32.85" y="812.72">23</text>
<rect class="B" x="57.90" y="793.08" width="42.80" height="27.80" rx="5"/>
<text class="d" x="79.30" y="812.72">ЧТ</text>
<rect class="B" x="103.70" y="793.08" width="88.00" height="27.80" rx="5"/>
<text class="z" x="147.40" y="812.59">ЗАВОЗ</text>
<rect class="Y" x="195.22" y="793.08" width="88.00" height="27.80" rx="5"/>
<text class="k" x="240.02" y="812.59">1000</text>
<rect class="Y" x="286.74" y="793.08" width="88.00" height="27.80" rx="5"/>
<text class="k" x="331.54" y="814.19">40%-50%</text>
<rect class="X" x="378.26" y="793.08" width="88.00" height="27.80" rx="5"/>
<rect class="B" x="469.78" y="793.08" width="88.00" height="27.80" rx="5"/>
<text class="z" x="513.48" y="813.89">ЗАВОЗ</text>
<rect class="G" x="561.30" y="793.08" width="88.00" height="27.80" rx="5"/>
<text x="606.10" y="813.89">1500</text>
<rect class="Y" x="652.82" y="793.08" width="88.00" height="27.80" rx="5"/>
<text class="k" x="697.62" y="811.89">900</text>
<rect class="Y" x="744.34" y="793.08" width="88.00" height="27.80" rx="5"/>
<text class="k" x="789.14" y="812.89">1200</text>
<rect class="Y" x="835.86" y="793.08" width="88.00" height="27.80" rx="5"/>
<text class="k" x="880.66" y="814.59">1000</text>
<rect class="X" x="927.38" y="793.08" width="88.00" height="27.80" rx="5"/>
<rect class="Y" x="1018.90" y="793.08" width="88.00" height="27.80" rx="5"/>
<text class="k" x="1066.00" y="811.89">40%-50%</text>
<rect class="G" x="1110.42" y="793.08" width="88.00" height="27.80" rx="5"/>
<text x="1156.22" y="813.19">30%</text>
<rect class="B" x="1201.94" y="793.08" width="88.00" height="27.80" rx="5"/>
<text class="z" x="1245.64" y="812.59">ЗАВОЗ</text>
<rect class="P" x="1293.46" y="793.08" width="88.00" height="27.80" rx="5"/>
<text x="1338.26" y="813.19">50%-70%</text>
<rect class="Y" x="1384.98" y="793.08" width="88.00" height="27.80" rx="5"/>
<text class="k" x="1430.28" y="810.89">40%</text>
<rect class="B" x="11.70" y="823.72" width="42.90" height="27.80" rx="5"/>
<text class="d" x="32.85" y="843.36">24</text>
<rect class="B" x="57.90" y="823.72" width="42.80" height="27.80" rx="5"/>
<text class="d" x="79.30" y="843.36">ПТ</text>
<rect class="X" x="103.70" y="823.72" width="88.00" height="27.80" rx="5"/>
<rect class="Y" x="195.22" y="823.72" width="88.00" height="27.80" rx="5"/>
<text class="k" x="240.02" y="842.53">900</text>
<rect class="P" x="286.74" y="823.72" width="88.00" height="27.80" rx="5"/>
<text x="331.54" y="844.23">50%-60%</text>
<rect class="X" x="378.26" y="823.72" width="88.00" height="27.80" rx="5"/>
<rect class="G" x="469.78" y="823.72" width="88.00" height="27.80" rx="5"/>
<text x="514.58" y="844.83">1500</text>
<rect class="Y" x="561.30" y="823.72" width="88.00" height="27.80" rx="5"/>
<text class="k" x="606.10" y="844.23">1400</text>
<rect class="Y" x="652.82" y="823.72" width="88.00" height="27.80" rx="5"/>
<text class="k" x="697.62" y="842.53">800</text>
<rect class="Y" x="744.34" y="823.72" width="88.00" height="27.80" rx="5"/>
<text class="k" x="789.14" y="843.23">1000</text>
<rect class="Y" x="835.86" y="823.72" width="88.00" height="27.80" rx="5"/>
<text class="k" x="880.66" y="845.83">900</text>
<rect class="G" x="927.38" y="823.72" width="88.00" height="27.80" rx="5"/>
<text x="972.18" y="843.23">20%-30%</text>
<rect class="Y" x="1018.90" y="823.72" width="88.00" height="27.80" rx="5"/>
<text class="k" x="1066.00" y="841.83">40%-50%</text>
<rect class="G" x="1110.42" y="823.72" width="88.00" height="27.80" rx="5"/>
<text x="1156.22" y="842.53">30%</text>
<rect class="Y" x="1201.94" y="823.72" width="88.00" height="27.80" rx="5"/>
<text class="k" x="1246.74" y="843.23">900</text>
<rect class="P" x="1293.46" y="823.72" width="88.00" height="27.80" rx="5"/>
<text x="1338.26" y="843.23">50%-80%</text>
<rect class="Y" x="1384.98" y="823.72" width="88.00" height="27.80" rx="5"/>
<text class="k" x="1430.28" y="841.53">50%</text>
<rect class="B" x="11.70" y="854.36" width="42.90" height="27.80" rx="5"/>
<text class="d" x="32.85" y="874.00">25</text>
<rect class="B" x="57.90" y="854.36" width="42.80" height="27.80" rx="5"/>
<text class="d" x="79.30" y="874.00">СБ</text>
<rect class="G" x="103.70" y="854.36" width="88.00" height="27.80" rx="5"/>
<text class="b" x="148.50" y="874.67">20%</text>
<rect class="Y" x="195.22" y="854.36" width="88.00" height="27.80" rx="5"/>
<text class="k" x="240.02" y="873.87">900</text>
<rect class="P" x="286.74" y="854.36" width="88.00" height="27.80" rx="5"/>
<text x="331.54" y="875.47">50%-60%</text>
<rect class="G" x="378.26" y="854.36" width="88.00" height="27.80" rx="5"/>
<text class="b" x="423.06" y="873.67">30%</text>
<rect class="Y" x="469.78" y="854.36" width="88.00" height="27.80" rx="5"/>
<text class="k" x="514.58" y="876.17">1400</text>
<rect class="Y" x="561.30" y="854.36" width="88.00" height="27.80" rx="5"/>
<text class="k" x="606.10" y="876.17">1300</text>
<rect class="P" x="652.82" y="854.36" width="88.00" height="27.80" rx="5"/>
<text class="b" x="697.62" y="874.67">500</text>
<rect class="Y" x="744.34" y="854.36" width="88.00" height="27.80" rx="5"/>
<text class="k" x="789.14" y="874.87">800</text>
<rect class="Y" x="835.86" y="854.36" width="88.00" height="27.80" rx="5"/>
<text class="k" x="880.66" y="877.17">900</text>
<rect class="Y" x="927.38" y="854.36" width="88.00" height="27.80" rx="5"/>
<text class="b k" x="972.18" y="874.67">40%</text>
<rect class="P" x="1018.90" y="854.36" width="88.00" height="27.80" rx="5"/>
<text class="b" x="1066.00" y="873.67">60%</text>
<rect class="Y" x="1110.42" y="854.36" width="88.00" height="27.80" rx="5"/>
<text class="b k" x="1156.22" y="873.67">40%</text>
<rect class="P" x="1201.94" y="854.36" width="88.00" height="27.80" rx="5"/>
<text class="b" x="1246.74" y="874.67">600</text>
<rect class="B" x="1293.46" y="854.36" width="88.00" height="27.80" rx="5"/>
<text class="z" x="1337.16" y="873.87">ЗАВОЗ</text>
<rect class="Y" x="1384.98" y="854.36" width="88.00" height="27.80" rx="5"/>
<text class="b k" x="1430.28" y="872.97">50%</text>
<rect class="B" x="11.70" y="885.00" width="42.90" height="27.80" rx="5"/>
<text class="d" x="32.85" y="904.64">26</text>
<rect class="B" x="57.90" y="885.00" width="42.80" height="27.80" rx="5"/>
<text class="d" x="79.30" y="904.64">ВС</text>
<rect class="G" x="103.70" y="885.00" width="88.00" height="27.80" rx="5"/>
<text class="b" x="148.50" y="905.61">20%</text>
<rect class="Y" x="195.22" y="885.00" width="88.00" height="27.80" rx="5"/>
<text class="k" x="240.02" y="903.81">800</text>
<rect class="P" x="286.74" y="885.00" width="88.00" height="27.80" rx="5"/>
<text x="331.54" y="905.11">50%-70%</text>
<rect class="G" x="378.26" y="885.00" width="88.00" height="27.80" rx="5"/>
<text class="b" x="423.06" y="905.31">30%</text>
<rect class="Y" x="469.78" y="885.00" width="88.00" height="27.80" rx="5"/>
<text class="k" x="514.58" y="906.51">1300</text>
<rect class="Y" x="561.30" y="885.00" width="88.00" height="27.80" rx="5"/>
<text class="k" x="606.10" y="906.51">1200</text>
<rect class="P" x="652.82" y="885.00" width="88.00" height="27.80" rx="5"/>
<text class="b" x="697.62" y="905.61">500</text>
<rect class="P" x="744.34" y="885.00" width="88.00" height="27.80" rx="5"/>
<text x="789.14" y="904.81">600</text>
<rect class="Y" x="835.86" y="885.00" width="88.00" height="27.80" rx="5"/>
<text class="k" x="880.66" y="906.81">800</text>
<rect class="Y" x="927.38" y="885.00" width="88.00" height="27.80" rx="5"/>
<text class="b k" x="972.18" y="905.61">40%</text>
<rect class="P" x="1018.90" y="885.00" width="88.00" height="27.80" rx="5"/>
<text class="b" x="1066.00" y="904.31">60%</text>
<rect class="Y" x="1110.42" y="885.00" width="88.00" height="27.80" rx="5"/>
<text class="b k" x="1156.22" y="905.31">40%</text>
<rect class="P" x="1201.94" y="885.00" width="88.00" height="27.80" rx="5"/>
<text class="b" x="1246.74" y="906.31">500</text>
<rect class="X" x="1293.46" y="885.00" width="88.00" height="27.80" rx="5"/>
<rect class="Y" x="1384.98" y="885.00" width="88.00" height="27.80" rx="5"/>
<text class="b k" x="1430.28" y="904.31">50%</text>
<rect class="B" x="11.70" y="915.64" width="42.90" height="27.80" rx="5"/>
<text class="d" x="32.85" y="935.28">27</text>
<rect class="B" x="57.90" y="915.64" width="42.80" height="27.80" rx="5"/>
<text class="d" x="79.30" y="935.28">ПН</text>
<rect class="P" x="103.70" y="915.64" width="88.00" height="27.80" rx="5"/>
<text class="g" x="149.10" y="936.22">ГИПЕР</text>
<rect class="Y" x="195.22" y="915.64" width="88.00" height="27.80" rx="5"/>
<text class="k" x="240.02" y="935.15">700</text>
<rect class="P" x="286.74" y="915.64" width="88.00" height="27.80" rx="5"/>
<text x="331.54" y="936.15">50%-80%</text>
<rect class="P" x="378.26" y="915.64" width="88.00" height="27.80" rx="5"/>
<text class="g" x="423.66" y="936.22">ГИПЕР</text>
<rect class="P" x="469.78" y="915.64" width="88.00" height="27.80" rx="5"/>
<text class="g" x="515.18" y="937.22">ГИПЕР</text>
<rect class="P" x="561.30" y="915.64" width="88.00" height="27.80" rx="5"/>
<text class="g" x="606.70" y="937.22">ГИПЕР</text>
<rect class="P" x="652.82" y="915.64" width="88.00" height="27.80" rx="5"/>
<text x="697.62" y="936.15">400</text>
<rect class="P" x="744.34" y="915.64" width="88.00" height="27.80" rx="5"/>
<text x="789.14" y="936.15">500</text>
<rect class="Y" x="835.86" y="915.64" width="88.00" height="27.80" rx="5"/>
<text class="k" x="880.66" y="937.75">700</text>
<rect class="P" x="927.38" y="915.64" width="88.00" height="27.80" rx="5"/>
<text class="g" x="972.78" y="936.22">ГИПЕР</text>
<rect class="P" x="1018.90" y="915.64" width="88.00" height="27.80" rx="5"/>
<text class="g" x="1066.60" y="935.22">ГИПЕР</text>
<rect class="P" x="1110.42" y="915.64" width="88.00" height="27.80" rx="5"/>
<text class="g" x="1156.82" y="935.52">ГИПЕР</text>
<rect class="P" x="1201.94" y="915.64" width="88.00" height="27.80" rx="5"/>
<text x="1246.74" y="936.75">500</text>
<rect class="P" x="1293.46" y="915.64" width="88.00" height="27.80" rx="5"/>
<text class="g" x="1338.86" y="935.22">ГИПЕР</text>
<rect class="P" x="1384.98" y="915.64" width="88.00" height="27.80" rx="5"/>
<text class="g" x="1430.88" y="934.52">ГИПЕР</text>
<rect class="B" x="11.70" y="946.28" width="42.90" height="27.80" rx="5"/>
<text class="d" x="32.85" y="965.92">28</text>
<rect class="B" x="57.90" y="946.28" width="42.80" height="27.80" rx="5"/>
<text class="d" x="79.30" y="965.92">ВТ</text>
<rect class="G" x="103.70" y="946.28" width="88.00" height="27.80" rx="5"/>
<text x="148.50" y="967.39">20%-30%</text>
<rect class="P" x="195.22" y="946.28" width="88.00" height="27.80" rx="5"/>
<text x="240.02" y="965.79">600</text>
<rect class="B" x="286.74" y="946.28" width="88.00" height="27.80" rx="5"/>
<text class="z" x="330.44" y="966.09">ЗАВОЗ</text>
<rect class="Y" x="378.26" y="946.28" width="88.00" height="27.80" rx="5"/>
<text class="k" x="423.06" y="967.79">30%-40%</text>
<rect class="Y" x="469.78" y="946.28" width="88.00" height="27.80" rx="5"/>
<text class="k" x="514.58" y="969.09">1200</text>
<rect class="Y" x="561.30" y="946.28" width="88.00" height="27.80" rx="5"/>
<text class="k" x="606.10" y="969.09">1000</text>
<rect class="P" x="652.82" y="946.28" width="88.00" height="27.80" rx="5"/>
<text x="697.62" y="966.09">300</text>
<rect class="B" x="744.34" y="946.28" width="88.00" height="27.80" rx="5"/>
<text class="z" x="788.04" y="966.09">ЗАВОЗ</text>
<rect class="P" x="835.86" y="946.28" width="88.00" height="27.80" rx="5"/>
<text x="880.66" y="969.39">600</text>
<rect class="Y" x="927.38" y="946.28" width="88.00" height="27.80" rx="5"/>
<text class="k" x="972.18" y="967.79">30%-40%</text>
<rect class="Y" x="1018.90" y="946.28" width="88.00" height="27.80" rx="5"/>
<text class="k" x="1066.00" y="966.09">40%-50%</text>
<rect class="Y" x="1110.42" y="946.28" width="88.00" height="27.80" rx="5"/>
<text class="k" x="1156.22" y="966.79">40%</text>
<rect class="P" x="1201.94" y="946.28" width="88.00" height="27.80" rx="5"/>
<text x="1246.74" y="967.39">400</text>
<rect class="G" x="1293.46" y="946.28" width="88.00" height="27.80" rx="5"/>
<text x="1338.26" y="966.09">20%-30%</text>
<rect class="P" x="1384.98" y="946.28" width="88.00" height="27.80" rx="5"/>
<text x="1430.28" y="965.09">60%</text>
<rect class="B" x="11.70" y="976.92" width="42.90" height="27.80" rx="5"/>
<text class="d" x="32.85" y="996.56">29</text>
<rect class="B" x="57.90" y="976.92" width="42.80" height="27.80" rx="5"/>
<text class="d" x="79.30" y="996.56">СР</text>
<rect class="G" x="103.70" y="976.92" width="88.00" height="27.80" rx="5"/>
<text x="148.50" y="997.43">20%-30%</text>
<rect class="P" x="195.22" y="976.92" width="88.00" height="27.80" rx="5"/>
<text x="240.02" y="995.73">500</text>
<rect class="X" x="286.74" y="976.92" width="88.00" height="27.80" rx="5"/>
<rect class="Y" x="378.26" y="976.92" width="88.00" height="27.80" rx="5"/>
<text class="k" x="423.06" y="998.03">30%-40%</text>
<rect class="Y" x="469.78" y="976.92" width="88.00" height="27.80" rx="5"/>
<text class="k" x="514.58" y="999.73">1000</text>
<rect class="Y" x="561.30" y="976.92" width="88.00" height="27.80" rx="5"/>
<text class="k" x="606.10" y="999.73">1000</text>
<rect class="B" x="652.82" y="976.92" width="88.00" height="27.80" rx="5"/>
<text class="z" x="696.52" y="996.43">ЗАВОЗ</text>
<rect class="Y" x="744.34" y="976.92" width="88.00" height="27.80" rx="5"/>
<text class="k" x="789.14" y="997.03">1400</text>
<rect class="P" x="835.86" y="976.92" width="88.00" height="27.80" rx="5"/>
<text x="880.66" y="999.73">500</text>
<rect class="Y" x="927.38" y="976.92" width="88.00" height="27.80" rx="5"/>
<text class="k" x="972.18" y="997.43">30%-40%</text>
<rect class="P" x="1018.90" y="976.92" width="88.00" height="27.80" rx="5"/>
<text x="1066.00" y="997.03">50%-60%</text>
<rect class="Y" x="1110.42" y="976.92" width="88.00" height="27.80" rx="5"/>
<text class="k" x="1156.22" y="997.43">40%</text>
<rect class="P" x="1201.94" y="976.92" width="88.00" height="27.80" rx="5"/>
<text x="1246.74" y="998.03">300</text>
<rect class="G" x="1293.46" y="976.92" width="88.00" height="27.80" rx="5"/>
<text x="1338.26" y="997.03">20%-30%</text>
<rect class="P" x="1384.98" y="976.92" width="88.00" height="27.80" rx="5"/>
<text x="1430.28" y="995.73">60%</text>
<rect class="B" x="11.70" y="1007.56" width="42.90" height="27.80" rx="5"/>
<text class="d" x="32.85" y="1027.20">30</text>
<rect class="B" x="57.90" y="1007.56" width="42.80" height="27.80" rx="5"/>
<text class="d" x="79.30" y="1027.20">ЧТ</text>
<rect class="G" x="103.70" y="1007.56" width="88.00" height="27.80" rx="5"/>
<text x="148.50" y="1027.37">20%-30%</text>
<rect class="B" x="195.22" y="1007.56" width="88.00" height="27.80" rx="5"/>
<text class="z" x="238.92" y="1025.67">ЗАВОЗ</text>
<rect class="X" x="286.74" y="1007.56" width="88.00" height="27.80" rx="5"/>
<rect class="Y" x="378.26" y="1007.56" width="88.00" height="27.80" rx="5"/>
<text class="k" x="423.06" y="1028.07">30%-40%</text>
<rect class="Y" x="469.78" y="1007.56" width="88.00" height="27.80" rx="5"/>
<text class="k" x="514.58" y="1029.67">1000</text>
<rect class="Y" x="561.30" y="1007.56" width="88.00" height="27.80" rx="5"/>
<text class="k" x="606.10" y="1030.37">900</text>
<rect class="Y" x="652.82" y="1007.56" width="88.00" height="27.80" rx="5"/>
<text class="k" x="697.62" y="1027.07">900</text>
<rect class="Y" x="744.34" y="1007.56" width="88.00" height="27.80" rx="5"/>
<text class="k" x="789.14" y="1028.07">1200</text>
<rect class="B" x="835.86" y="1007.56" width="88.00" height="27.80" rx="5"/>
<text class="z" x="879.56" y="1029.67">ЗАВОЗ</text>
<rect class="Y" x="927.38" y="1007.56" width="88.00" height="27.80" rx="5"/>
<text class="k" x="972.18" y="1027.37">30%-40%</text>
<rect class="P" x="1018.90" y="1007.56" width="88.00" height="27.80" rx="5"/>
<text x="1066.00" y="1027.07">50%-60%</text>
<rect class="Y" x="1110.42" y="1007.56" width="88.00" height="27.80" rx="5"/>
<text class="k" x="1156.22" y="1027.37">40%</text>
<rect class="B" x="1201.94" y="1007.56" width="88.00" height="27.80" rx="5"/>
<text class="z" x="1245.64" y="1028.07">ЗАВОЗ</text>
<rect class="G" x="1293.46" y="1007.56" width="88.00" height="27.80" rx="5"/>
<text x="1338.26" y="1027.07">20%-30%</text>
<rect class="P" x="1384.98" y="1007.56" width="88.00" height="27.80" rx="5"/>
<text x="1430.28" y="1026.37">60-70%</text>
<rect class="B" x="11.70" y="1038.20" width="42.90" height="27.80" rx="5"/>
<text class="d" x="32.85" y="1057.84">31</text>
<rect class="B" x="57.90" y="1038.20" width="42.80" height="27.80" rx="5"/>
<text class="d" x="79.30" y="1057.84">ПТ</text>
<rect class="Y" x="103.70" y="1038.20" width="88.00" height="27.80" rx="5"/>
<text class="k" x="148.50" y="1057.31">30%-40%</text>
<rect class="G" x="195.22" y="1038.20" width="88.00" height="27.80" rx="5"/>
<text x="240.02" y="1057.01">1500</text>
<rect class="G" x="286.74" y="1038.20" width="88.00" height="27.80" rx="5"/>
<text x="331.54" y="1058.01">20%-30%</text>
<rect class="Y" x="378.26" y="1038.20" width="88.00" height="27.80" rx="5"/>
<text class="k" x="423.06" y="1058.71">30%-40%</text>
<rect class="Y" x="469.78" y="1038.20" width="88.00" height="27.80" rx="5"/>
<text class="k" x="514.58" y="1060.31">900</text>
<rect class="Y" x="561.30" y="1038.20" width="88.00" height="27.80" rx="5"/>
<text class="k" x="606.10" y="1060.31">900</text>
<rect class="Y" x="652.82" y="1038.20" width="88.00" height="27.80" rx="5"/>
<text class="k" x="697.62" y="1057.01">800</text>
<rect class="Y" x="744.34" y="1038.20" width="88.00" height="27.80" rx="5"/>
<text class="k" x="789.14" y="1058.71">1000</text>
<rect class="G" x="835.86" y="1038.20" width="88.00" height="27.80" rx="5"/>
<text x="880.66" y="1060.31">1500</text>
<rect class="Y" x="927.38" y="1038.20" width="88.00" height="27.80" rx="5"/>
<text class="k" x="972.18" y="1058.01">30%-40%</text>
<rect class="P" x="1018.90" y="1038.20" width="88.00" height="27.80" rx="5"/>
<text x="1066.00" y="1057.01">50%-60%</text>
<rect class="Y" x="1110.42" y="1038.20" width="88.00" height="27.80" rx="5"/>
<text class="k" x="1156.22" y="1058.01">50%</text>
<rect class="Y" x="1201.94" y="1038.20" width="88.00" height="27.80" rx="5"/>
<text class="k" x="1246.74" y="1058.71">900</text>
<rect class="Y" x="1293.46" y="1038.20" width="88.00" height="27.80" rx="5"/>
<text class="k" x="1338.26" y="1057.01">30%-40%</text>
<rect class="P" x="1384.98" y="1038.20" width="88.00" height="27.80" rx="5"/>
<text x="1430.28" y="1057.01">60-80%</text>
</svg></body></html>
